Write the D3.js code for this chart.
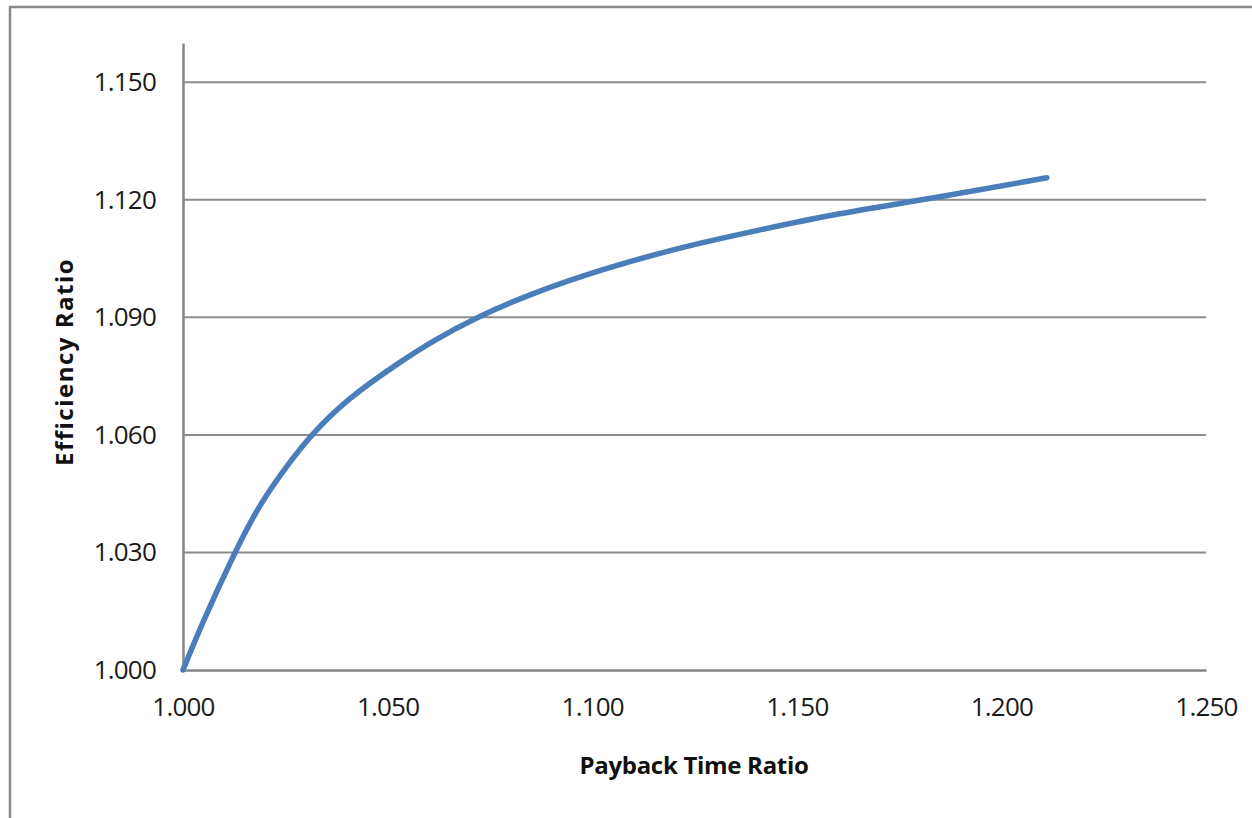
<!DOCTYPE html>
<html>
<head>
<meta charset="utf-8">
<script src="https://cdn.jsdelivr.net/npm/d3@7"></script>
<style>
  body { margin: 0; background: #fff; }
  svg { display: block; }
</style>
</head>
<body>
<div id="chart"></div>
<script>
// Payback time ratio vs efficiency ratio

const width = 1252
const height = 818

// values
const paybackRatio = [1.0000, 1.0049, 1.0127, 1.0169, 1.0205, 1.0254, 1.0310, 1.0401, 1.0530, 1.0611, 1.0718, 1.0855, 1.1019, 1.1215, 1.1410, 1.1574, 1.1826, 1.2111]
const efficiencyRatio = [1.0000, 1.0125, 1.0301, 1.0386, 1.0449, 1.0521, 1.0597, 1.0692, 1.0786, 1.0840, 1.0901, 1.0962, 1.1021, 1.1079, 1.1123, 1.1160, 1.1203, 1.1256]

const xTicks = [1.000, 1.050, 1.100, 1.150, 1.200, 1.250]
const yTicks = [1.000, 1.030, 1.060, 1.090, 1.120, 1.150]

const data = paybackRatio.map((x, i) => ({x: x, y: efficiencyRatio[i]}))

const svg = d3.select("#chart").append("svg")
    .attr("width", width)
    .attr("height", height)

// outer frame
svg.append("rect")
    .attr("x", 10).attr("y", 7)
    .attr("width", 1260).attr("height", 830)
    .attr("fill", "none")
    .attr("stroke", "#8a8a8a")
    .attr("stroke-width", 2.5)

const x = d3.scaleLinear().domain([1.000, 1.250]).range([183, 1206])
const y = d3.scaleLinear().domain([1.000, 1.160]).range([670, 43])

const fmt = d3.format(".3f")

// gridlines
svg.append("g")
  .selectAll("line")
  .data(yTicks.filter(d => d > 1))
  .join("line")
    .attr("x1", x(1.000)).attr("x2", x(1.250))
    .attr("y1", d => y(d)).attr("y2", d => y(d))
    .attr("stroke", "#8c8c8c")
    .attr("stroke-width", 2)

// y axis
const yAxis = svg.append("g")
    .attr("transform", `translate(${x(1.000)},0)`)
    .call(d3.axisLeft(y).tickValues(yTicks).tickFormat(fmt).tickSize(0).tickPadding(27))
yAxis.select(".domain").attr("stroke", "#868686").attr("stroke-width", 2.5)
yAxis.selectAll("text")
    .attr("font-family", "Open Sans")
    .attr("font-size", 26)
    .attr("letter-spacing", -0.8)
    .attr("fill", "#1a1a1a")

// x axis
const xAxis = svg.append("g")
    .attr("transform", `translate(0,${y(1.000)})`)
    .call(d3.axisBottom(x).tickValues(xTicks).tickFormat(fmt).tickSize(0).tickPadding(28))
xAxis.select(".domain").attr("stroke", "#868686").attr("stroke-width", 2.5)
xAxis.selectAll("text")
    .attr("font-family", "Open Sans")
    .attr("font-size", 26)
    .attr("letter-spacing", -0.8)
    .attr("fill", "#1a1a1a")

// the curve (smoothed, like excel's smoothed line)
const line = d3.line()
    .x(d => x(d.x))
    .y(d => y(d.y))
    .curve(d3.curveBasis)

svg.append("path")
    .datum(data)
    .attr("d", line)
    .attr("fill", "none")
    .attr("stroke", "#4a7ebb")
    .attr("stroke-width", 5.5)
    .attr("stroke-linecap", "round")

// axis titles
svg.append("text")
    .attr("x", 694).attr("y", 774)
    .attr("text-anchor", "middle")
    .attr("font-family", "Open Sans")
    .attr("font-weight", "bold")
    .attr("font-size", 24)
    .attr("letter-spacing", -0.3)
    .attr("fill", "#111")
    .text("Payback Time Ratio")

svg.append("text")
    .attr("transform", "translate(73,362) rotate(-90)")
    .attr("text-anchor", "middle")
    .attr("font-family", "Open Sans")
    .attr("font-weight", "bold")
    .attr("font-size", 24)
    .attr("letter-spacing", 1.5)
    .attr("fill", "#111")
    .text("Efficiency Ratio")
</script>
</body>
</html>
